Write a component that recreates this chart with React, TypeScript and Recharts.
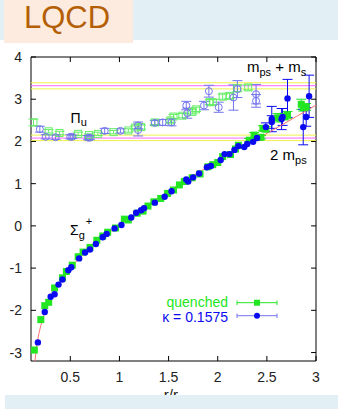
import {
  ScatterChart,
  Scatter,
  XAxis,
  YAxis,
  ErrorBar,
  ReferenceLine,
  ReferenceArea,
} from 'recharts';

// ticks
const xTicks = [0.5, 1, 1.5, 2, 2.5, 3];
const yTicks = [-3, -2, -1, 0, 1, 2, 3, 4];

// threshold lines
const yellowLines = [3.39, 3.245, 2.15, 2.02];
const magentaLines = [3.32, 2.08];

// Sigma_g+ ground state, [r/r0, V r0]
const quenchedSigma = [
  [0.134, -2.94], [0.2, -2.22], [0.24, -1.89], [0.28, -1.81], [0.34, -1.47], [0.42, -1.23],
  [0.46, -1.08], [0.52, -0.93], [0.58, -0.73], [0.63, -0.62], [0.7, -0.51], [0.77, -0.34],
  [0.83, -0.24], [0.88, -0.15], [0.96, -0.05], [1.05, 0.16], [1.09, 0.14], [1.18, 0.3],
  [1.24, 0.35], [1.29, 0.47], [1.35, 0.57], [1.42, 0.65], [1.49, 0.77], [1.55, 0.85],
  [1.61, 0.97], [1.66, 1.05], [1.74, 1.14], [1.82, 1.23], [1.9, 1.4], [1.95, 1.45],
  [2.0, 1.5], [2.05, 1.64], [2.13, 1.69], [2.18, 1.82], [2.21, 1.91],
];
const kappaSigma = [
  [0.17, -2.76], [0.24, -2.04], [0.3, -1.68], [0.34, -1.62], [0.38, -1.39], [0.42, -1.27],
  [0.48, -1.05], [0.51, -0.98], [0.59, -0.77], [0.65, -0.63], [0.7, -0.56], [0.76, -0.43],
  [0.83, -0.27], [0.87, -0.19], [0.95, -0.06], [1.02, 0.02], [1.12, 0.2], [1.17, 0.31],
  [1.22, 0.37], [1.25, 0.42], [1.36, 0.55], [1.46, 0.69], [1.53, 0.82], [1.68, 1.1],
  [1.7, 1.05], [1.75, 1.15], [1.81, 1.24], [1.89, 1.39], [1.93, 1.42], [2.03, 1.56],
  [2.07, 1.7], [2.12, 1.7], [2.17, 1.8], [2.21, 1.89], [2.27, 1.87], [2.3, 1.94], [2.36, 1.99],
];

// large-r points with visible errors, [r, V, err]
const quenchedUpper = [
  [2.32, 2.03, 0.04], [2.37, 2.15, 0.06], [2.44, 2.1, 0.04], [2.46, 2.31, 0.06], [2.49, 2.29, 0.06],
  [2.61, 2.56, 0.1], [2.68, 2.59, 0.08], [2.71, 2.63, 0.08], [2.85, 2.88, 0.12], [2.87, 2.8, 0.08],
  [2.9, 2.82, 0.08],
];
const kappaUpper = [
  [2.4, 2.08, 0.05], [2.49, 2.34, 0.1], [2.55, 2.53, 0.3], [2.55, 2.46, 0.15], [2.65, 2.53, 0.25],
  [2.66, 2.58, 0.2], [2.71, 3.02, 0.45], [2.87, 2.34, 0.42], [2.9, 2.58, 0.22], [2.93, 3.07, 0.5],
];

// Pi_u excited state, [r, V, err]
const quenchedPi = [
  [0.125, 2.45, 0.08], [0.28, 2.24, 0.04], [0.39, 2.2, 0.04], [0.58, 2.18, 0.04], [0.69, 2.15, 0.03],
  [0.78, 2.18, 0.04], [0.94, 2.22, 0.04], [1.09, 2.26, 0.04], [1.16, 2.33, 0.04], [1.22, 2.34, 0.05],
  [1.36, 2.45, 0.05], [1.52, 2.5, 0.05], [1.55, 2.59, 0.05], [1.64, 2.61, 0.05], [1.74, 2.7, 0.05],
  [1.78, 2.76, 0.05], [1.92, 2.93, 0.06], [1.95, 2.93, 0.06], [2.05, 3.06, 0.06], [2.12, 3.08, 0.06],
  [2.2, 3.26, 0.08], [2.31, 3.28, 0.06],
];
const kappaPi = [
  [0.19, 2.29, 0.07], [0.25, 2.11, 0.05], [0.35, 2.1, 0.05], [0.5, 2.11, 0.05], [0.52, 2.11, 0.04],
  [0.68, 2.09, 0.05], [0.7, 2.09, 0.05], [0.85, 2.25, 0.06], [1.01, 2.25, 0.05], [1.19, 2.27, 0.14],
  [1.19, 2.38, 0.08], [1.36, 2.44, 0.06], [1.44, 2.45, 0.07], [1.53, 2.45, 0.08], [1.68, 2.85, 0.1],
  [1.69, 2.67, 0.12], [1.86, 2.85, 0.1], [1.91, 3.19, 0.14], [2.01, 2.81, 0.12], [2.16, 3.04, 0.3],
  [2.2, 3.24, 0.2], [2.39, 3.12, 0.23], [2.39, 2.96, 0.15],
];

// fitted potential curve
const fitCurve = [
  [0.14, -3.2], [0.15, -3.0], [0.16, -2.82], [0.18, -2.55], [0.2, -2.36], [0.23, -2.12],
  [0.26, -1.93], [0.3, -1.71], [0.35, -1.49], [0.4, -1.3], [0.45, -1.14], [0.5, -1.0],
  [0.6, -0.75], [0.7, -0.53], [0.8, -0.34], [0.9, -0.15], [1.0, 0.02], [1.2, 0.35],
  [1.4, 0.67], [1.6, 0.97], [1.8, 1.26], [2.0, 1.54], [2.2, 1.8], [2.4, 2.06],
  [2.6, 2.32], [2.8, 2.59], [3.0, 2.86],
];

const toPts = (rows: number[][]) => rows.map(([x, y, e]) => ({ x, y, e: e ?? 0 }));

const GREEN = '#22e622';
const BLUE = '#0a0af0';
const PALE_GREEN = '#66ee66';
const PALE_BLUE = '#7474ee';

const X0 = 0.1, X1 = 3, Y0 = -3.2, Y1 = 4;

const filledSquare = (p: any) => (
  <rect x={p.cx - 3.5} y={p.cy - 3.5} width={7} height={7} fill={GREEN} />
);
const filledCircle = (p: any) => <circle cx={p.cx} cy={p.cy} r={3.2} fill={BLUE} />;
const openSquare = (p: any) => (
  <rect x={p.cx - 3.5} y={p.cy - 3.5} width={7} height={7} fill="none" stroke={PALE_GREEN} strokeWidth={1} />
);
const openCircle = (p: any) => (
  <circle cx={p.cx} cy={p.cy} r={3.5} fill="none" stroke={PALE_BLUE} strokeWidth={1} />
);

const font = '"Liberation Sans", Arial, sans-serif';

export default function App() {
  return (
    <div style={{ position: 'absolute', left: 0, top: 0, width: 338, height: 409, background: '#fff', fontFamily: font }}>
      {/* header band */}
      <div style={{ position: 'absolute', left: 0, top: 0, width: 338, height: 40, background: '#e2f0f6' }} />
      <div style={{ position: 'absolute', left: 4, top: 0, width: 129, height: 43, background: '#fdebdf' }} />

      <div style={{ position: 'absolute', left: 0, top: 0 }}>
        <ScatterChart width={338} height={409} margin={{ top: 57, right: 22, bottom: 18, left: 0 }}>
          <XAxis
            type="number"
            dataKey="x"
            domain={[X0, X1]}
            ticks={xTicks}
            allowDataOverflow
            axisLine={false}
            tickLine={false}
            tickSize={0}
            tickMargin={11}
            height={30}
            tick={{ fill: '#222', fontSize: 14, fontFamily: font }}
          />
          <YAxis
            type="number"
            dataKey="y"
            domain={[Y0, Y1]}
            ticks={yTicks}
            allowDataOverflow
            axisLine={false}
            tickLine={false}
            tickSize={0}
            tickMargin={9}
            width={31}
            tick={{ fill: '#222', fontSize: 14, fontFamily: font }}
          />
          {yellowLines.map((v) => (
            <ReferenceLine key={`yl${v}`} y={v} stroke="#f0f04a" strokeWidth={1} />
          ))}
          {magentaLines.map((v) => (
            <ReferenceLine key={`ml${v}`} y={v} stroke="#ff66ff" strokeWidth={1} />
          ))}

          <Scatter data={toPts(fitCurve)} line={{ stroke: '#ff7272', strokeWidth: 1 }} shape={() => <g />} isAnimationActive={false} />

          <Scatter data={toPts(quenchedPi)} shape={openSquare} isAnimationActive={false}>
            <ErrorBar dataKey="e" direction="y" width={5} stroke={PALE_GREEN} strokeWidth={1} />
          </Scatter>
          <Scatter data={toPts(kappaPi)} shape={openCircle} isAnimationActive={false}>
            <ErrorBar dataKey="e" direction="y" width={5} stroke={PALE_BLUE} strokeWidth={1} />
          </Scatter>

          <Scatter data={toPts(quenchedSigma)} shape={filledSquare} isAnimationActive={false} />
          <Scatter data={toPts(quenchedUpper)} shape={filledSquare} isAnimationActive={false}>
            <ErrorBar dataKey="e" direction="y" width={5} stroke={GREEN} strokeWidth={1} />
          </Scatter>
          <Scatter data={toPts(kappaSigma)} shape={filledCircle} isAnimationActive={false} />
          <Scatter data={toPts(kappaUpper)} shape={filledCircle} isAnimationActive={false}>
            <ErrorBar dataKey="e" direction="y" width={5} stroke={BLUE} strokeWidth={1} />
          </Scatter>

          {/* frame and inward ticks */}
          <ReferenceArea x1={X0} x2={X1} y1={Y0} y2={Y1} fill="none" stroke="#000" strokeWidth={1} />
          {xTicks.map((t) => (
            <ReferenceLine key={`xb${t}`} segment={[{ x: t, y: Y0 }, { x: t, y: Y0 + 0.12 }]} stroke="#000" />
          ))}
          {xTicks.map((t) => (
            <ReferenceLine key={`xt${t}`} segment={[{ x: t, y: Y1 }, { x: t, y: Y1 - 0.12 }]} stroke="#000" />
          ))}
          {yTicks.map((t) => (
            <ReferenceLine key={`yl${t}`} segment={[{ x: X0, y: t }, { x: X0 + 0.05, y: t }]} stroke="#000" />
          ))}
          {yTicks.map((t) => (
            <ReferenceLine key={`yr${t}`} segment={[{ x: X1, y: t }, { x: X1 - 0.05, y: t }]} stroke="#000" />
          ))}
        </ScatterChart>
      </div>

      {/* annotations and legend */}
      <svg width={338} height={409} style={{ position: 'absolute', left: 0, top: 0, pointerEvents: 'none' }} fontFamily={font}>
        <text x={24} y={27.5} fontSize={31} fill="#b45f06">LQCD</text>

        <text x={247} y={72} fontSize={15} fill="#000">
          m<tspan fontSize={11} dy={4}>ps</tspan>
          <tspan dy={-4}> + m</tspan>
          <tspan fontSize={11} dy={4}>s</tspan>
        </text>
        <text x={270} y={159.5} fontSize={15} fill="#000">
          2 m<tspan fontSize={11} dy={4}>ps</tspan>
        </text>
        <text x={70.5} y={123} fontSize={14} fill="#000">
          Π<tspan fontSize={11} dy={3}>u</tspan>
        </text>
        <text x={70} y={235} fontSize={14} fill="#000">
          Σ<tspan fontSize={11} dy={4}>g</tspan>
          <tspan fontSize={11} dx={1} dy={-14}>+</tspan>
        </text>

        <text x={228} y={306.7} fontSize={14} fill={GREEN} textAnchor="end">quenched</text>
        <line x1={237} x2={277} y1={302.7} y2={302.7} stroke={GREEN} />
        <line x1={237} x2={237} y1={300.5} y2={305} stroke={GREEN} />
        <line x1={277} x2={277} y1={300.5} y2={305} stroke={GREEN} />
        <rect x={254} y={299.7} width={6} height={6} fill={GREEN} />

        <text x={228} y={321.5} fontSize={14} fill={BLUE} textAnchor="end">κ = 0.1575</text>
        <line x1={237} x2={277} y1={315.7} y2={315.7} stroke={PALE_BLUE} />
        <line x1={237} x2={237} y1={313.5} y2={318} stroke={PALE_BLUE} />
        <line x1={277} x2={277} y1={313.5} y2={318} stroke={PALE_BLUE} />
        <circle cx={257} cy={315.7} r={3} fill={BLUE} />

        <text x={174} y={400} fontSize={15} fill="#222" textAnchor="middle">
          r/r<tspan fontSize={11} dy={3}>0</tspan>
        </text>
      </svg>

      {/* footer band */}
      <div style={{ position: 'absolute', left: 5, top: 395, width: 333, height: 14, background: '#e2f0f6' }} />
    </div>
  );
}
